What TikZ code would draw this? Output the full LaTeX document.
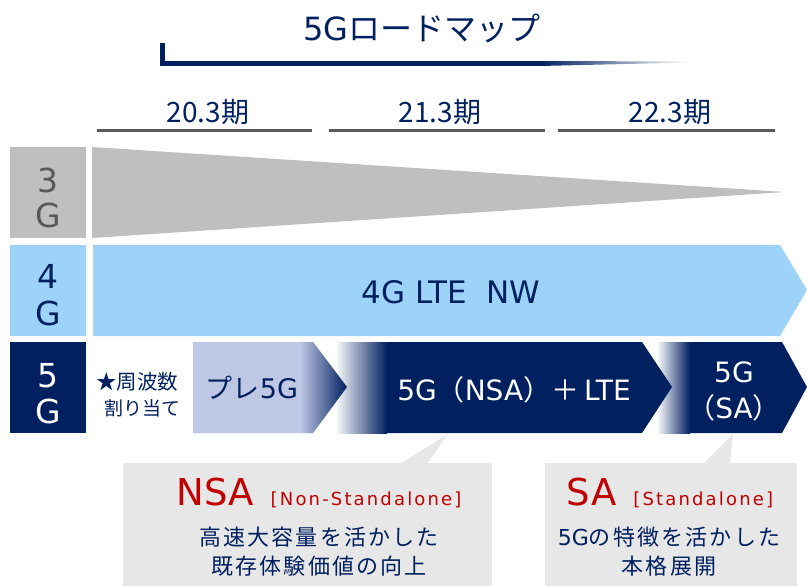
\documentclass[tikz,border=0pt]{standalone}
\usepackage{fontspec}
\setmainfont{Noto Sans CJK JP}
\newfontfamily\lat{DejaVu Sans}
\newfontfamily\latsp{DejaVu Sans}[LetterSpace=12]
\newfontfamily\jpsp{Noto Sans CJK JP}[LetterSpace=10]
\definecolor{navy}{RGB}{0,32,96}
\definecolor{gray3}{RGB}{191,191,191}
\definecolor{gray3t}{RGB}{89,89,89}
\definecolor{blue4}{RGB}{157,211,248}
\definecolor{lav}{RGB}{190,199,228}
\definecolor{redt}{RGB}{192,0,0}
\definecolor{callg}{RGB}{231,231,231}
\definecolor{pline}{RGB}{89,89,89}
\tikzset{
  txt/.style={inner sep=0pt, outer sep=0pt, anchor=base},
  rowlbl/.style={txt, font=\lat\fontsize{33}{36}\selectfont},
  period/.style={txt, font=\fontsize{28}{30}\selectfont, text=navy},
  periodline/.style={draw=pline, line width=3pt},
  bartext/.style={txt, font=\fontsize{28}{32}\selectfont},
  jline/.style={txt, font=\jpsp\fontsize{22}{26}\selectfont, text=navy},
}
\begin{document}
\begin{tikzpicture}[x=1pt,y=-1pt]
\useasboundingbox (0,0) rectangle (807,586);

% title
\node[txt, font=\fontsize{32}{36}\selectfont, text=navy] (title) at (422,41) {{\lat 5G}ロードマップ};
\fill[navy] (160,43) rectangle (165,66);
\fill[navy] (160,61) rectangle (540,66);
\shade[left color=navy, right color=white] (540,61) -- (690,61.5) -- (690,62.5) -- (540,66) -- cycle;

% periods
\node[period] (p1) at (208,122) {20.3期};
\node[period] (p2) at (440,122) {21.3期};
\node[period] (p3) at (670,122) {22.3期};
\draw[periodline] (97,131) -- (312,131);
\draw[periodline] (329,131) -- (545,131);
\draw[periodline] (558,131) -- (775,131);

% 3G row
\fill[gray3] (10,147) rectangle (86,238);
\node[rowlbl, text=gray3t] (l3a) at (48,192) {3};
\node[rowlbl, text=gray3t] (l3b) at (48,227) {G};
\fill[gray3] (92,147) -- (785,192) -- (92,238) -- cycle;

% 4G row
\fill[blue4] (10,245) rectangle (86,336);
\node[rowlbl, text=navy] (l4a) at (48,288) {4};
\node[rowlbl, text=navy] (l4b) at (48,325) {G};
\fill[blue4] (93,245) -- (780,245) -- (807,290) -- (780,336) -- (93,336) -- cycle;
\node[txt, font=\lat\fontsize{31}{34}\selectfont, text=navy] (t4) at (451,303) {4G LTE\ \ NW};

% 5G row
\fill[navy] (10,342) rectangle (86,433);
\node[rowlbl, text=white] (l5a) at (48,387) {5};
\node[rowlbl, text=white] (l5b) at (48,423) {G};
\node[txt, anchor=base east, font=\fontsize{20.5}{24}\selectfont, text=navy] (f1) at (178,389) {★周波数};
\node[txt, anchor=base east, font=\fontsize{19}{24}\selectfont, text=navy] (f2) at (180,415) {割り当て};

% SA bar
\fill[navy] (658,342) -- (782,342) -- (807,387) -- (782,433) -- (658,433) -- cycle;
\shade[left color=navy!4, right color=navy] (658,342) rectangle (690,433);
% NSA bar
\fill[navy] (337,342) -- (642,342) -- (672,387) -- (642,433) -- (337,433) -- cycle;
\shade[left color=navy!4, right color=navy] (337,342) rectangle (387,433);
% pre 5G
\fill[lav] (193,342) -- (313,342) -- (347,387) -- (313,433) -- (193,433) -- cycle;
\begin{scope}
\clip (193,342) -- (313,342) -- (347,387) -- (313,433) -- (193,433) -- cycle;
\shade[left color=lav, right color=navy] (300,342) rectangle (347,433);
\end{scope}

\node[bartext, font=\fontsize{27}{30}\selectfont, text=navy] (pre) at (252,398) {プレ{\lat 5G}};
\node[bartext, text=white] (nsa) at (514,400) {{\lat 5G}（{\lat NSA}）＋\hspace{5pt}{\lat LTE}};
\node[bartext, text=white] (sa1) at (734,382) {\lat 5G};
\node[bartext, text=white] (sa2) at (734,418) {（{\lat SA}）};

% callouts
\fill[callg] (123,463) rectangle (492,586);
\fill[callg] (400,464) -- (448,434) -- (427,464) -- cycle;
\fill[callg] (545,463) rectangle (797,586);
\fill[callg] (703,464) -- (733,434) -- (730,464) -- cycle;

\node[txt, text=redt] (nsah) at (319,505) {{\lat\fontsize{37}{40}\selectfont NSA}\hspace{17pt}{\latsp\fontsize{18}{20}\selectfont [Non-Standalone]}};
\node[jline] (nsa1) at (319,545) {高速大容量を活かした};
\node[jline] (nsa2) at (319,574) {既存体験価値の向上};

\node[txt, text=redt] (sah) at (670,505) {{\lat\fontsize{37}{40}\selectfont SA}\hspace{17pt}{\latsp\fontsize{18}{20}\selectfont [Standalone]}};
\node[jline] (sa3) at (669,545) {{\lat 5G}の特徴を活かした};
\node[jline] (sa4) at (669,574) {本格展開};
\end{tikzpicture}
\end{document}
